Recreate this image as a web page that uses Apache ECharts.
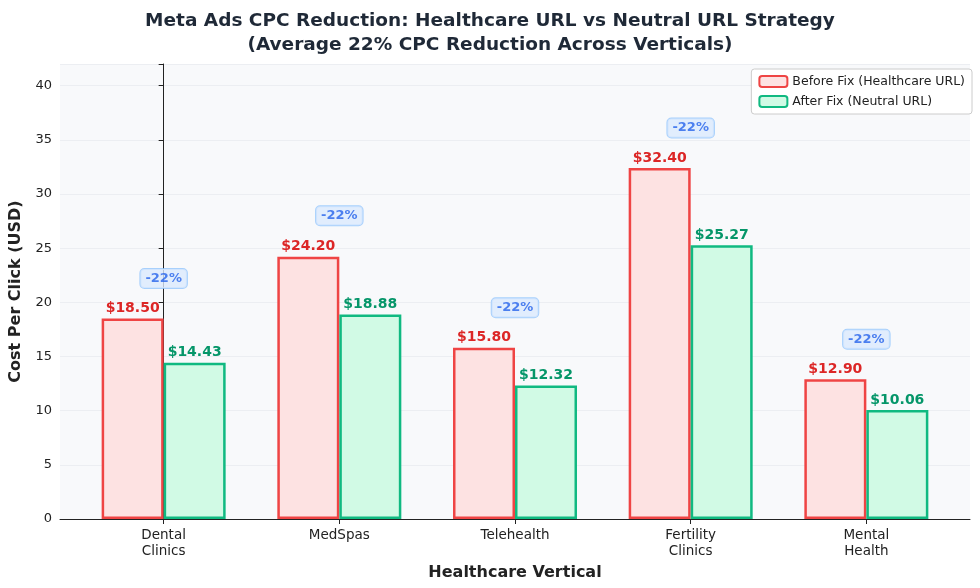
<!DOCTYPE html>
<html><head><meta charset="utf-8">
<script src="https://cdn.jsdelivr.net/npm/echarts@6/dist/echarts.min.js"></script>
<style>html,body{margin:0;padding:0;background:#fff}#c{width:980px;height:588px}</style>
</head><body><div id="c"></div>
<script>
const categories = ['Dental\nClinics', 'MedSpas', 'Telehealth', 'Fertility\nClinics', 'Mental\nHealth'];
const beforeFix = [18.50, 24.20, 15.80, 32.40, 12.90];
const afterFix = [14.43, 18.88, 12.32, 25.27, 10.06];
const badgeY = [22.2, 28.0, 19.5, 36.1, 16.6];
const badgeText = ['-22%', '-22%', '-22%', '-22%', '-22%'];
const yTicks = [0, 5, 10, 15, 20, 25, 30, 35, 40];
const catIdx = categories.map((c, i) => i);

const chart = echarts.init(document.getElementById('c'));
const F = 'DejaVu Sans';
chart.setOption({
  animation: false,
  textStyle: { fontFamily: F },
  title: {
    text: 'Meta Ads CPC Reduction: Healthcare URL vs Neutral URL Strategy\n(Average 22% CPC Reduction Across Verticals)',
    left: 'center', top: 4,
    textStyle: { fontFamily: F, fontSize: 18.5, fontWeight: 'bold', color: '#1f2937', lineHeight: 24 }
  },
  legend: {
    top: 69, right: 8, orient: 'vertical', itemGap: 7,
    itemWidth: 28, itemHeight: 11,
    backgroundColor: '#fff', borderColor: '#ccc', borderWidth: 1, borderRadius: 3, padding: [6, 7],
    textStyle: { fontFamily: F, fontSize: 12.5, color: '#222' },
    data: ['Before Fix (Healthcare URL)', 'After Fix (Neutral URL)']
  },
  grid: { left: 57, right: 10, top: 64, bottom: 69, backgroundColor: '#f8f9fb', show: true, borderWidth: 0 },
  xAxis: {
    type: 'value', min: -0.59, max: 4.59,
    name: 'Healthcare Vertical', nameLocation: 'middle', nameGap: 46,
    nameTextStyle: { fontFamily: F, fontSize: 16, fontWeight: 'bold', color: '#222' },
    axisLine: { show: true, lineStyle: { color: '#222', width: 1 } },
    axisTick: { show: true, customValues: catIdx, lineStyle: { color: '#222' } },
    axisLabel: { customValues: catIdx, formatter: v => categories[Math.round(v)] || '',
      fontFamily: F, fontSize: 13.5, color: '#222', lineHeight: 16 },
    splitLine: { show: false }
  },
  yAxis: {
    type: 'value', min: 0, max: 42, interval: 5,
    name: 'Cost Per Click (USD)', nameLocation: 'middle', nameGap: 36,
    nameTextStyle: { fontFamily: F, fontSize: 16, fontWeight: 'bold', color: '#222' },
    axisLine: { show: true, lineStyle: { color: '#222', width: 1 } },
    axisTick: { show: true, lineStyle: { color: '#222' } },
    axisLabel: { fontFamily: F, fontSize: 13, color: '#222',
      formatter: v => yTicks.includes(v) ? String(v) : '' },
    splitLine: { lineStyle: { color: '#eceef2', width: 1 } }
  },
  series: [
    {
      name: 'Before Fix (Healthcare URL)', type: 'bar', data: beforeFix.map((v, i) => [i, v]),
      barWidth: 62, barGap: '0%',
      itemStyle: { color: '#fde2e2', borderColor: '#ef4444', borderWidth: 2.5 },
      label: { show: true, position: 'top', distance: 3, formatter: p => '$' + p.value[1].toFixed(2),
        fontFamily: F, fontSize: 14, fontWeight: 'bold', color: '#dc2626' }
    },
    {
      name: 'After Fix (Neutral URL)', type: 'bar', data: afterFix.map((v, i) => [i, v]),
      barWidth: 62,
      itemStyle: { color: '#d1fae5', borderColor: '#10b981', borderWidth: 2.5 },
      label: { show: true, position: 'top', distance: 3, formatter: p => '$' + p.value[1].toFixed(2),
        fontFamily: F, fontSize: 14, fontWeight: 'bold', color: '#059669' }
    },
    {
      name: 'badge', type: 'scatter', symbolSize: 0,
      data: badgeY.map((v, i) => ({ value: [i, v], label: { formatter: badgeText[i] } })),
      label: { show: true, position: 'inside', fontFamily: F, fontSize: 13, fontWeight: 'bold',
        color: '#2563eb', backgroundColor: '#dbeafe', borderColor: '#93c5fd', borderWidth: 1,
        borderRadius: 4, padding: [3, 5] },
      z: 5
    }
  ]
});
</script></body></html>
